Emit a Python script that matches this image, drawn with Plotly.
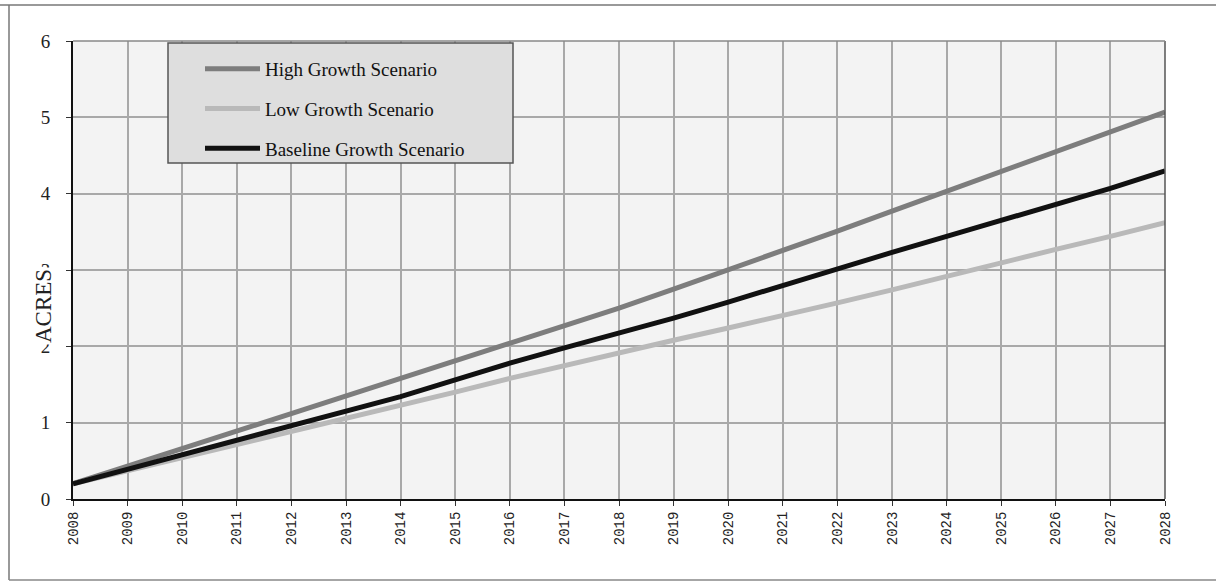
import plotly.graph_objects as go

# Projected acreage by year for three growth scenarios
years = list(range(2008, 2029))
high_growth = [0.20, 0.43, 0.66, 0.89, 1.12, 1.35, 1.58, 1.81, 2.04, 2.27, 2.50,
               2.75, 3.00, 3.25, 3.51, 3.77, 4.03, 4.29, 4.55, 4.81, 5.07]
low_growth = [0.20, 0.37, 0.54, 0.71, 0.88, 1.05, 1.22, 1.40, 1.58, 1.75, 1.92,
              2.08, 2.24, 2.40, 2.57, 2.74, 2.92, 3.10, 3.27, 3.44, 3.62]
baseline_growth = [0.20, 0.39, 0.58, 0.77, 0.96, 1.15, 1.34, 1.56, 1.78, 1.98, 2.17,
                   2.37, 2.58, 2.80, 3.01, 3.23, 3.44, 3.65, 3.86, 4.07, 4.30]
y_ticks = [0, 1, 2, 3, 4, 5, 6]

W, H = 1216, 584
ML, MR, MT, MB = 73, 51, 41, 85
PW, PH = W - ML - MR, H - MT - MB


def px_x(p):
    return (p - ML) / PW


def px_y(p):
    return (H - MB - p) / PH


fig = go.Figure()
series = [
    ("High Growth Scenario", high_growth, "#7d7d7d", 5),
    ("Low Growth Scenario", low_growth, "#b9b9b9", 5),
    ("Baseline Growth Scenario", baseline_growth, "#111111", 5),
]
for i, (name, vals, color, width) in enumerate(series):
    fig.add_trace(go.Scatter(
        x=years, y=vals, name=name, mode="lines",
        line=dict(color=color, width=width),
        legendgroup=f"g{i}",
    ))

serif = "Liberation Serif, DejaVu Serif, serif"

fig.update_layout(
    width=W, height=H,
    margin=dict(l=ML, r=MR, t=MT, b=MB),
    paper_bgcolor="white",
    plot_bgcolor="#f3f3f3",
    showlegend=True,
    legend=dict(
        x=px_x(200), y=px_y(50), xanchor="left", yanchor="top",
        bgcolor="rgba(0,0,0,0)", borderwidth=0,
        font=dict(family=serif, size=19, color="#111"),
        itemwidth=55, tracegroupgap=12,
    ),
    xaxis=dict(
        range=[2008, 2028], tickmode="array", tickvals=years,
        ticktext=[str(y) for y in years], tickangle=-90,
        tickfont=dict(family="Liberation Mono, DejaVu Sans Mono, monospace", size=14, color="#222"),
        showgrid=True, gridcolor="#a8a8a8", gridwidth=1.5,
        showline=True, linecolor="#111", linewidth=2, mirror=False,
        ticks="outside", ticklen=5, tickcolor="#333", zeroline=False,
    ),
    yaxis=dict(
        range=[0, 6], tickmode="array", tickvals=y_ticks,
        ticktext=[str(v) for v in y_ticks],
        tickfont=dict(family=serif, size=19, color="#222"),
        showgrid=True, gridcolor="#a8a8a8", gridwidth=1.5,
        showline=True, linecolor="#111", linewidth=2,
        ticks="outside", ticklen=5, tickcolor="#333", zeroline=False,
        ticklabelstandoff=12,
    ),
)

shapes = [
    # legend panel
    dict(type="rect", xref="paper", yref="paper", layer="above",
         x0=px_x(168), x1=px_x(513), y0=px_y(163), y1=px_y(43),
         fillcolor="#dedede", line=dict(color="#555", width=1.5)),
    # right and top edges of the plotting area
    dict(type="line", xref="paper", yref="paper", x0=1, x1=1, y0=0, y1=1,
         line=dict(color="#555", width=1.5)),
    dict(type="line", xref="paper", yref="paper", x0=0, x1=1, y0=1, y1=1,
         line=dict(color="#888", width=1.5)),
    # outer frame
    dict(type="line", xref="paper", yref="paper", x0=px_x(0), x1=px_x(W), y0=px_y(5), y1=px_y(5),
         line=dict(color="#777", width=1.5)),
    dict(type="line", xref="paper", yref="paper", x0=px_x(9), x1=px_x(9), y0=px_y(5), y1=px_y(580),
         line=dict(color="#777", width=1.5)),
    dict(type="line", xref="paper", yref="paper", x0=px_x(9), x1=px_x(W), y0=px_y(580), y1=px_y(580),
         line=dict(color="#888", width=1.5)),
]
fig.update_layout(shapes=shapes)

fig.add_annotation(
    text="ACRES", xref="paper", yref="paper", x=px_x(43), y=px_y(306),
    xanchor="center", yanchor="middle",
    showarrow=False, textangle=-90, bgcolor="white",
    font=dict(family=serif, size=23, color="#222"),
)

fig.write_html("out.html")
